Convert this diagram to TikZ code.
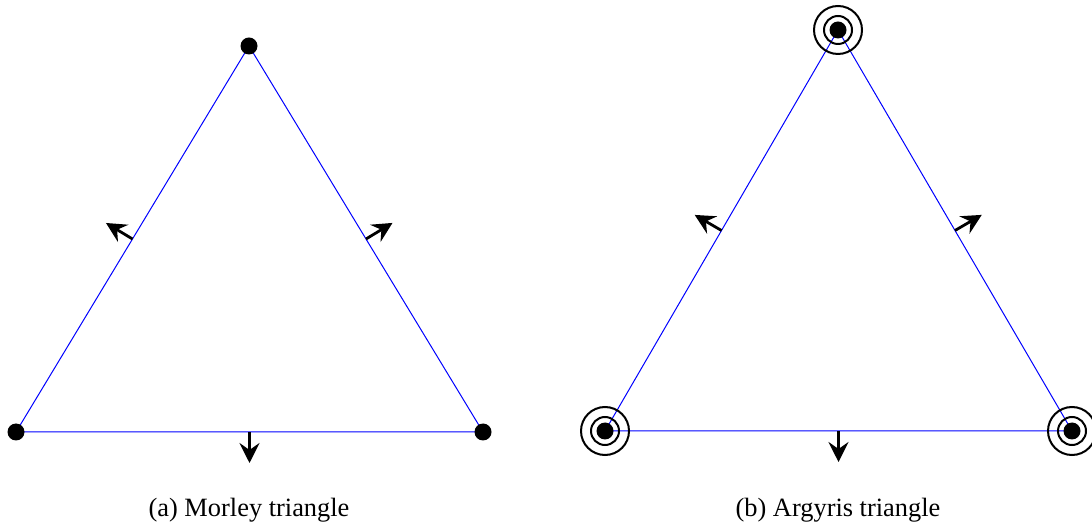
\documentclass[tikz,border=0pt]{standalone}
\usepackage{fontspec}
\setmainfont{Liberation Serif}
\usetikzlibrary{arrows.meta,calc}

\begin{document}
\begin{tikzpicture}[
    x=0.5pt, y=0.5pt,
    edge/.style={draw=blue, line width=0.5pt},
    dot/.style={circle, fill=black, inner sep=0pt, minimum size=8.5pt},
    ring/.style={draw=black, line width=1pt},
    normal/.style={-{Stealth[length=10pt, width=10pt, inset=3.5pt]}, line width=1.4pt},
    caption/.style={anchor=base, font=\fontsize{13.2}{16}\selectfont},
  ]
    \useasboundingbox (0,0) rectangle (1092,530);

    % Morley triangle
    \coordinate (mA) at (16,98);
    \coordinate (mB) at (483,98);
    \coordinate (mC) at (249,484);
    \draw[edge] (mA) -- (mB) -- (mC) -- (mA);
    \node[dot] (mdotA) at (mA) {};
    \node[dot] (mdotB) at (mB) {};
    \node[dot] (mdotC) at (mC) {};
    \coordinate (mAC) at ($(mA)!0.5!(mC)$);
    \coordinate (mCB) at ($(mC)!0.5!(mB)$);
    \coordinate (mBA) at ($(mB)!0.5!(mA)$);
    \coordinate (mnAC) at ($(mAC)!15.5pt!90:(mC)$);
    \coordinate (mnCB) at ($(mCB)!15.5pt!90:(mB)$);
    \coordinate (mnBA) at ($(mBA)!15.5pt!90:(mA)$);
    \draw[normal] (mAC) -- (mnAC);
    \draw[normal] (mCB) -- (mnCB);
    \draw[normal] (mBA) -- (mnBA);
    \node[caption] (mcap) at (249,13) {(a) Morley triangle};

    % Argyris triangle
    \coordinate (aA) at (605,99);
    \coordinate (aB) at (1072,99);
    \coordinate (aC) at (838,500);
    \draw[edge] (aA) -- (aB) -- (aC) -- (aA);
    \node[dot] (adotA) at (aA) {};
    \node[dot] (adotB) at (aB) {};
    \node[dot] (adotC) at (aC) {};
    \draw[ring] (aA) circle[radius=7pt] (aA) circle[radius=12pt];
    \draw[ring] (aB) circle[radius=7pt] (aB) circle[radius=12pt];
    \draw[ring] (aC) circle[radius=7pt] (aC) circle[radius=12pt];
    \coordinate (aAC) at ($(aA)!0.5!(aC)$);
    \coordinate (aCB) at ($(aC)!0.5!(aB)$);
    \coordinate (aBA) at ($(aB)!0.5!(aA)$);
    \coordinate (anAC) at ($(aAC)!15.5pt!90:(aC)$);
    \coordinate (anCB) at ($(aCB)!15.5pt!90:(aB)$);
    \coordinate (anBA) at ($(aBA)!15.5pt!90:(aA)$);
    \draw[normal] (aAC) -- (anAC);
    \draw[normal] (aCB) -- (anCB);
    \draw[normal] (aBA) -- (anBA);
    \node[caption] (acap) at (838,13) {(b) Argyris triangle};
\end{tikzpicture}
\end{document}
